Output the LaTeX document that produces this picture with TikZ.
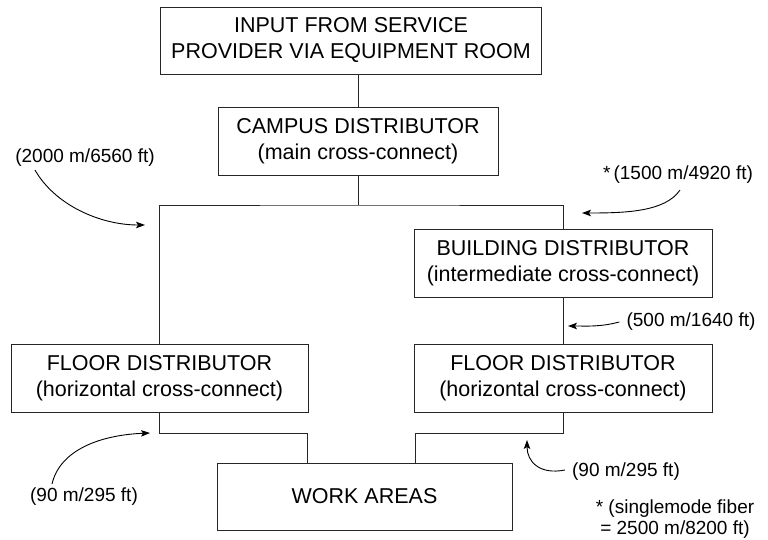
\documentclass[tikz,border=0pt]{standalone}
\usepackage{fontspec}
\setmainfont{Liberation Sans}
\usepackage{tikz}
\usetikzlibrary{arrows.meta, calc}

\begin{document}
\begin{tikzpicture}[x=1pt, y=-1pt]
    \tikzset{
        distbox/.style={
                draw=black!85, line width=0.8pt, align=center, inner sep=0pt,
                font=\fontsize{21.5}{26}\selectfont
            },
        cable/.style={draw=black!85, line width=0.8pt},
        length label/.style={
                font=\fontsize{19}{21}\selectfont, inner sep=0pt, align=center
            },
        length arrow/.style={
                -{Stealth[length=9pt, width=6.5pt, inset=2pt]},
                line width=0.9pt, color=black
            }
    }
    \useasboundingbox (0,0) rectangle (768,540);

    \node[distbox, minimum width=381, minimum height=67] (input) at (351, 40.5)
        {INPUT FROM SERVICE\\PROVIDER VIA EQUIPMENT ROOM};
    \node[distbox, minimum width=280, minimum height=68] (campus) at (358, 141)
        {CAMPUS DISTRIBUTOR\\(main cross-connect)};
    \node[distbox, minimum width=298, minimum height=68] (bldg) at (563, 263)
        {BUILDING DISTRIBUTOR\\(intermediate cross-connect)};
    \node[distbox, minimum width=297, minimum height=68] (floorL) at (159.5, 378)
        {FLOOR DISTRIBUTOR\\(horizontal cross-connect)};
    \node[distbox, minimum width=298, minimum height=68] (floorR) at (563, 378)
        {FLOOR DISTRIBUTOR\\(horizontal cross-connect)};
    \node[distbox, minimum width=295, minimum height=67] (work) at (364.5, 496.5)
        {WORK AREAS};

    % backbone
    \coordinate (bar) at (358, 205);
    \coordinate (dropL) at (307, 433);
    \coordinate (dropR) at (415, 433);
    \draw[cable] (campus.north) -- (campus.north |- input.south);
    \draw[cable] (campus.south) -- (bar);
    \draw[cable] (floorL.north) |- (bar) -| (bldg.north);
    \draw[cable] (bldg.south) -- (floorR.north);
    \draw[cable] (floorL.south) |- (dropL) -- (dropL |- work.north);
    \draw[cable] (floorR.south) |- (dropR) -- (dropR |- work.north);

    % distance labels
    \node[length label] (lenCampus) at (85, 158) {(2000 m/6560 ft)};
    \node[length label] (lenBldg) at (678, 175) {*\,(1500 m/4920 ft)};
    \node[length label] (lenFloor) at (691, 322) {(500 m/1640 ft)};
    \node[length label] (lenHorL) at (84, 497) {(90 m/295 ft)};
    \node[length label] (lenHorR) at (626, 472) {(90 m/295 ft)};
    \node[length label] (note) at (675, 519) {* (singlemode fiber\\= 2500 m/8200 ft)};

    \coordinate (tipA) at (145, 225);
    \coordinate (tipB) at (582, 213);
    \coordinate (tipC) at (568, 326);
    \coordinate (tipD) at (150, 433);
    \coordinate (tipE) at (527, 440);

    % arrows
    \draw[length arrow] ([xshift=-50pt, yshift=-3pt]lenCampus.south)
        .. controls (55, 205) and (100, 225) .. (tipA);
    \draw[length arrow] ([xshift=2pt, yshift=-6pt]lenBldg.south)
        .. controls (665, 212) and (625, 213) .. (tipB);
    \draw[length arrow] ([xshift=-7pt]lenFloor.west)
        .. controls (600, 327) and (588, 326) .. (tipC);
    \draw[length arrow] ([xshift=-32pt, yshift=4pt]lenHorL.north)
        .. controls (60, 450) and (100, 435) .. (tipD);
    \draw[length arrow] ([xshift=-7pt, yshift=2pt]lenHorR.west)
        .. controls (540, 475) and (527, 462) .. (tipE);
\end{tikzpicture}
\end{document}
